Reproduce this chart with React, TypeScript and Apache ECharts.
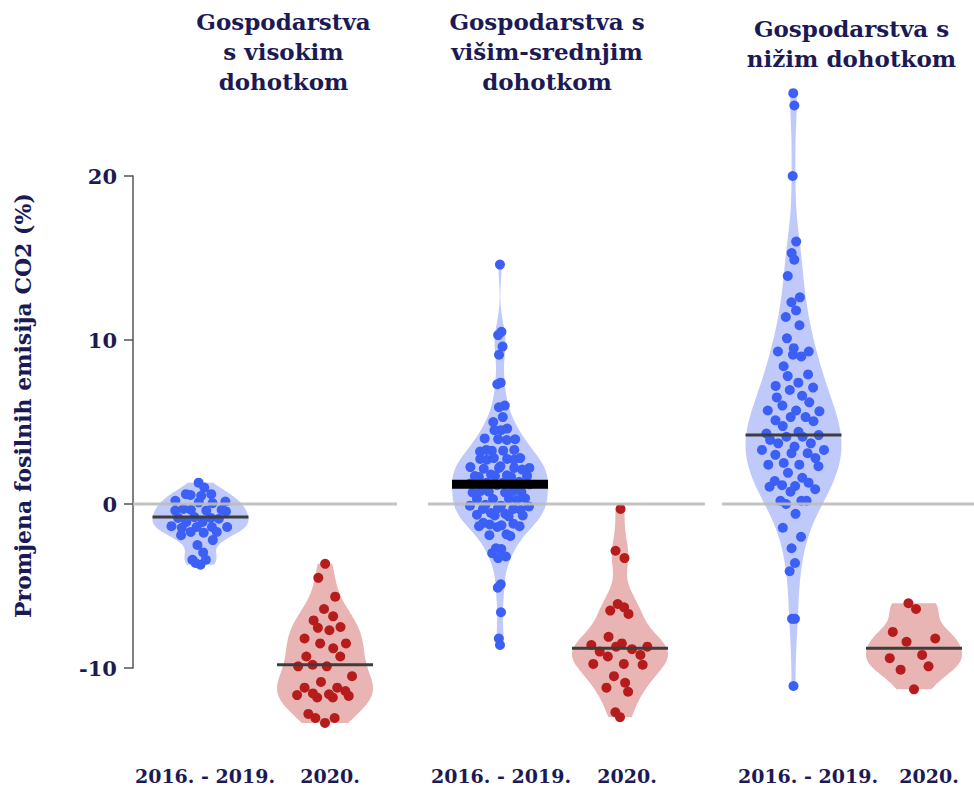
import React, { useEffect, useRef } from 'react';
import * as echarts from 'echarts';

// ---------- data ----------
const PANEL_TITLES = [
  'Gospodarstva\ns visokim\ndohotkom',
  'Gospodarstva s\nvišim-srednjim\ndohotkom',
  'Gospodarstva s\nnižim dohotkom',
];
const PERIODS = ['2016. - 2019.', '2020.'];
const Y_AXIS_NAME = 'Promjena fosilnih emisija CO2 (%)';
const Y_TICK_MIN = -10;
const Y_TICK_MAX = 20;
const Y_TICK_STEP = 10;

const HIGH_PRE = [
  1.3, 1.0, 0.6, 0.6, 0.5, 0.55, 0.1, 0.15, 0.2, 0.05, -0.35, -0.45, -0.35, -0.3, -0.4, -0.4,
  -1.1, -0.85, -0.9, -0.85, -0.8, -1.1, -1.4, -1.4, -1.35, -1.45, -1.4, -1.75, -1.7, -1.7, -1.9,
  -2.2, -2.5, -2.95, -3.4, -3.4, -3.7, -3.6,
];
const HIGH_2020 = [
  -3.65, -4.5, -5.65, -6.4, -6.85, -7.1, -7.5, -7.7, -7.55, -8.5, -8.2, -8.8, -8.5, -9.3, -9.3,
  -9.9, -9.9, -9.8, -10.5, -10.85, -11.2, -11.2, -11.7, -11.4, -11.6, -11.8, -11.8, -11.55, -11.65,
  -12.8, -13.05, -13.35, -13.05,
];
const UPPER_PRE = [
  14.6, 10.5, 10.3, 9.6, 9.1, 7.4, 7.3, 6.0, 5.9, 5.3, 5.0, 4.5, 4.5, 4.6, 3.95, 4.0, 3.9, 3.95,
  3.3, 3.25, 3.2, 3.3, 3.25, 2.8, 2.75, 2.7, 2.8, 2.75, 2.7, 2.2, 2.25, 2.15, 2.2, 2.3, 2.2, 2.1,
  1.7, 1.75, 1.65, 1.7, 1.8, 1.7, 1.65, 1.35, 1.3, 1.25, 1.2, 1.15, 1.3, 0.75, 0.8, 0.7, 0.75, 0.8,
  0.7, 0.3, 0.35, 0.25, 0.3, 0.3, -0.1, -0.05, -0.15, -0.1, -0.3, -0.35, -0.25, -0.3, -0.6, -0.65,
  -0.55, -0.7, -0.75, -0.7, -1.2, -1.25, -1.15, -1.35, -1.4, -1.3, -1.35, -1.9, -1.85, -1.95, -2.7,
  -2.75, -3.0, -3.2, -3.3, -4.9, -5.1, -6.6, -8.2, -8.6,
];
const UPPER_2020 = [
  -0.3, -2.85, -3.3, -6.1, -6.3, -6.5, -6.7, -8.1, -8.6, -8.5, -8.7, -9.0, -8.85, -8.7, -9.2, -9.3,
  -9.75, -9.75, -9.8, -10.5, -10.9, -11.2, -11.45, -12.7, -13.0,
];
const LOWER_PRE = [
  25.05, 24.3, 20.0, 16.0, 15.3, 14.9, 13.9, 12.6, 12.3, 11.8, 11.4, 10.9, 10.1, 9.3, 9.5, 9.1, 9.0,
  9.3, 8.4, 7.8, 7.9, 7.4, 7.2, 7.1, 6.95, 6.5, 6.6, 6.2, 6.0, 5.7, 5.7, 5.65, 5.1, 5.3, 5.3, 5.05,
  4.75, 4.3, 4.4, 4.2, 3.9, 4.1, 4.1, 3.7, 3.7, 3.5, 3.3, 3.1, 3.3, 3.1, 3.0, 2.8, 2.4, 2.4, 2.5,
  2.3, 1.9, 1.05, 1.4, 1.15, 1.1, 0.75, 1.6, 1.3, 0.9, 0.2, 0.0, 0.2, 0.2, -0.6, -1.45, -2.0, -2.7,
  -3.6, -4.1, -7.0, -7.0, -11.1,
];
const LOWER_2020 = [-6.05, -6.4, -7.8, -8.2, -8.4, -9.2, -9.4, -9.9, -10.1, -11.3];

const GROUPS = [HIGH_PRE, HIGH_2020, UPPER_PRE, UPPER_2020, LOWER_PRE, LOWER_2020];
const MEDIANS = [-0.8, -9.8, 1.2, -8.8, 4.2, -8.8];

// ---------- layout / style ----------
const W = 974;
const H = 792;
const PX_PER_UNIT = 16.4;
const ZERO_PX = 504;
const Y_MIN = -13.5;
const Y_MAX = 25.5;
const DATA_TOP = ZERO_PX - Y_MAX * PX_PER_UNIT;
const DATA_H = (Y_MAX - Y_MIN) * PX_PER_UNIT;
const AXIS_TOP = ZERO_PX - Y_TICK_MAX * PX_PER_UNIT;
const AXIS_H = (Y_TICK_MAX - Y_TICK_MIN) * PX_PER_UNIT;

const PANELS = [
  { left: 133, right: 397, c0: 200.5, c1: 325, l0: 205, l1: 330, tx: 283.5, ty: 6 },
  { left: 428, right: 705, c0: 500, c1: 620, l0: 501, l1: 627, tx: 547, ty: 6 },
  { left: 722, right: 974, c0: 793.5, c1: 914, l0: 808, l1: 929, tx: 851.5, ty: 13 },
];

const FONT = '"DejaVu Serif", "Liberation Serif", serif';
const TEXT_COLOR = '#1c1a55';
const HALF_W = 48;
const DOT_R = 5;
const JITTER_FRAC = 0.68;
const FILLS = ['#c0cafa', '#e8b4b4'];
const DOTS = ['#3c5ff5', '#b71c1c'];
const MEDIAN_COLORS = ['#3d3d3d', '#3d3d3d', '#000000', '#3d3d3d', '#3d3d3d', '#3d3d3d'];
const MEDIAN_WIDTHS = [3, 3, 9, 3, 3, 3];

// ---------- helpers ----------
function kdeFn(vals: number[]) {
  const s = [...vals].sort((a, b) => a - b);
  const n = s.length;
  const mean = s.reduce((a, b) => a + b, 0) / n;
  const sd = Math.sqrt(s.reduce((a, b) => a + (b - mean) ** 2, 0) / (n - 1));
  const q = (p: number) => {
    const h = (n - 1) * p;
    const lo = Math.floor(h);
    const hi = Math.min(lo + 1, n - 1);
    return s[lo] + (h - lo) * (s[hi] - s[lo]);
  };
  const iqr = q(0.75) - q(0.25);
  const bw = 0.9 * Math.min(sd, iqr / 1.34) * Math.pow(n, -0.2);
  const dens = (y: number) => {
    let d = 0;
    for (const v of s) d += Math.exp(-0.5 * ((y - v) / bw) ** 2);
    return d;
  };
  const steps = 120;
  const ys: number[] = [];
  const ds: number[] = [];
  for (let i = 0; i <= steps; i++) {
    const y = s[0] + ((s[n - 1] - s[0]) * i) / steps;
    ys.push(y);
    ds.push(dens(y));
  }
  return { ys, ds, dens, maxd: Math.max(...ds) };
}

function vdc(i: number): number {
  let r = 0;
  let f = 0.5;
  while (i > 0) {
    r += f * (i & 1);
    i >>= 1;
    f /= 2;
  }
  return r;
}

// quasirandom offsets (fraction of local violin half-width)
function quasiOffsets(vals: number[]): number[] {
  const order = vals.map((_, i) => i).sort((a, b) => vals[a] - vals[b] || a - b);
  const out = new Array(vals.length).fill(0);
  order.forEach((idx, rank) => {
    out[idx] = (vdc(rank + 1) - 0.5) * 2;
  });
  return out;
}

function buildOption() {
  const grids: any[] = [];
  const xAxes: any[] = [];
  const yAxes: any[] = [];
  const series: any[] = [];

  PANELS.forEach((p, pi) => {
    const unit = p.c1 - p.c0;
    const labelVals = [(p.l0 - p.c0) / unit, 1 + (p.l1 - p.c1) / unit];
    grids.push({ left: p.left, top: DATA_TOP, width: p.right - p.left, height: DATA_H });
    xAxes.push({
      gridIndex: pi,
      type: 'value',
      min: (p.left - p.c0) / unit,
      max: 1 + (p.right - p.c1) / unit,
      axisLine: { show: false },
      axisTick: { show: false },
      splitLine: { show: false },
      axisLabel: {
        customValues: labelVals,
        formatter: (v: number) =>
          Math.abs(v - labelVals[0]) < Math.abs(v - labelVals[1]) ? PERIODS[0] : PERIODS[1],
        margin: 41,
        fontFamily: FONT,
        fontWeight: 'bold',
        fontSize: 19,
        color: TEXT_COLOR,
      },
    });
    yAxes.push({
      gridIndex: pi,
      type: 'value',
      min: Y_MIN,
      max: Y_MAX,
      show: pi === 0,
      axisLine: { show: false },
      axisTick: { show: false },
      axisLabel: { show: false },
      splitLine: { show: false },
      name: pi === 0 ? Y_AXIS_NAME : '',
      nameLocation: 'middle',
      nameGap: 99,
      nameTextStyle: { fontFamily: FONT, fontWeight: 'bold', fontSize: 22, color: TEXT_COLOR },
    });
    const data = [
      [0, MEDIANS[pi * 2], pi * 2],
      [1, MEDIANS[pi * 2 + 1], pi * 2 + 1],
    ];
    const common = {
      type: 'custom',
      xAxisIndex: pi,
      yAxisIndex: pi,
      silent: true,
      encode: { x: 0, y: 1 },
      data,
    };
    series.push({
      ...common,
      name: 'violin' + pi,
      z: 1,
      renderItem: (params: any, api: any) => {
        const slot = api.value(0);
        const gi = api.value(2);
        const { ys, ds, maxd } = kdeFn(GROUPS[gi]);
        const cx = api.coord([slot, 0])[0];
        const left: number[][] = [];
        const right: number[][] = [];
        ys.forEach((y, i) => {
          const py = api.coord([slot, y])[1];
          const w = (HALF_W * ds[i]) / maxd;
          left.push([cx - w, py]);
          right.push([cx + w, py]);
        });
        return {
          type: 'polygon',
          shape: { points: [...left, ...right.reverse()] },
          style: { fill: FILLS[gi % 2] },
        };
      },
    });
    series.push({
      ...common,
      name: 'points' + pi,
      z: 2,
      renderItem: (params: any, api: any) => {
        const slot = api.value(0);
        const gi = api.value(2);
        const vals = GROUPS[gi];
        const { dens, maxd } = kdeFn(vals);
        const cx = api.coord([slot, 0])[0];
        const offs = quasiOffsets(vals);
        return {
          type: 'group',
          children: vals.map((v, i) => {
            const py = api.coord([slot, v])[1];
            const w = HALF_W * JITTER_FRAC * (dens(v) / maxd);
            return {
              type: 'circle',
              shape: { cx: cx + offs[i] * w, cy: py, r: DOT_R },
              style: { fill: DOTS[gi % 2] },
            };
          }),
        };
      },
    });
    series.push({
      type: 'custom',
      xAxisIndex: pi,
      yAxisIndex: pi,
      silent: true,
      name: 'zero' + pi,
      z: 3,
      data: [[0, 0]],
      renderItem: (params: any, api: any) => {
        const cs = params.coordSys;
        const py = api.coord([0, 0])[1];
        return {
          type: 'line',
          shape: { x1: cs.x, y1: py, x2: cs.x + cs.width, y2: py },
          style: { stroke: '#bcbcbc', lineWidth: 3, opacity: 0.9 },
        };
      },
    });
    series.push({
      ...common,
      name: 'median' + pi,
      z: 4,
      renderItem: (params: any, api: any) => {
        const slot = api.value(0);
        const gi = api.value(2);
        const [cx, py] = api.coord([slot, api.value(1)]);
        return {
          type: 'line',
          shape: { x1: cx - HALF_W, y1: py, x2: cx + HALF_W, y2: py },
          style: { stroke: MEDIAN_COLORS[gi], lineWidth: MEDIAN_WIDTHS[gi] },
        };
      },
    });
  });

  // axis-only grid for the visible y axis (-10..20)
  grids.push({ left: PANELS[0].left, top: AXIS_TOP, width: 1, height: AXIS_H });
  xAxes.push({ gridIndex: 3, type: 'value', show: false, min: 0, max: 1 });
  yAxes.push({
    gridIndex: 3,
    type: 'value',
    min: Y_TICK_MIN,
    max: Y_TICK_MAX,
    interval: Y_TICK_STEP,
    axisLine: { show: true, lineStyle: { color: '#555555', width: 1.5 } },
    axisTick: { show: true, length: 9, lineStyle: { color: '#555555', width: 1.5 } },
    splitLine: { show: false },
    axisLabel: {
      margin: 16,
      fontFamily: FONT,
      fontWeight: 'bold',
      fontSize: 21,
      color: TEXT_COLOR,
    },
  });

  const graphic = PANELS.map((p, pi) => ({
    type: 'text',
    x: p.tx,
    y: p.ty,
    silent: true,
    style: {
      text: PANEL_TITLES[pi],
      align: 'center',
      verticalAlign: 'top',
      fontFamily: FONT,
      fontWeight: 'bold',
      fontSize: 23,
      lineHeight: 30,
      fill: TEXT_COLOR,
    },
  }));

  return {
    animation: false,
    backgroundColor: '#ffffff',
    grid: grids,
    xAxis: xAxes,
    yAxis: yAxes,
    series,
    graphic,
  };
}

export default function App() {
  const ref = useRef<HTMLDivElement>(null);
  useEffect(() => {
    document.body.style.margin = '0';
    if (!ref.current) return;
    const chart = echarts.init(ref.current, undefined, { renderer: 'svg' });
    chart.setOption(buildOption() as any);
    return () => chart.dispose();
  }, []);
  return <div ref={ref} style={{ width: W, height: H }} />;
}
